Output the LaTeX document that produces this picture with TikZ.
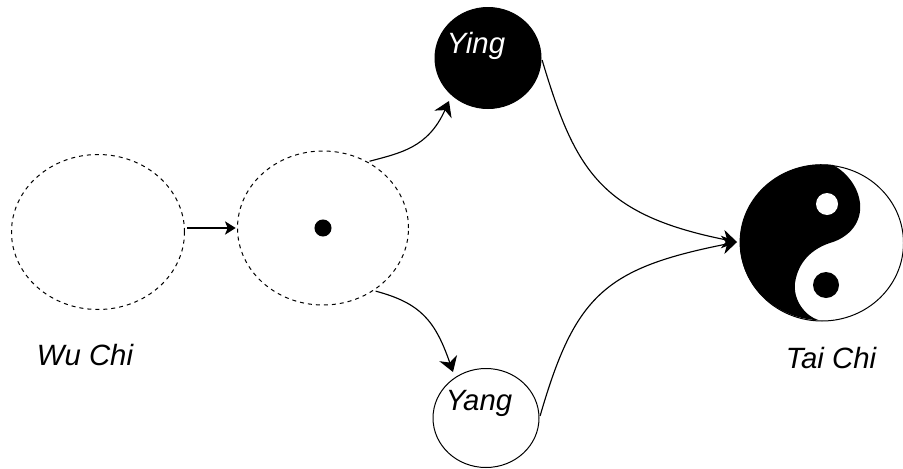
\documentclass[tikz,border=0pt]{standalone}
\usepackage{fontspec}
\setmainfont{Liberation Sans}
\usetikzlibrary{shapes.geometric}
\usetikzlibrary{arrows.meta}

\tikzset{
	void/.style={draw,ellipse,dashed,inner sep=0pt},
	pole/.style={draw,ellipse,inner sep=0pt},
	caption/.style={font=\fontsize{22}{26}\selectfont\itshape,inner sep=0pt},
	flow/.style={-{Stealth[length=11pt,width=14pt,inset=3.5pt]},line width=0.85pt,shorten <=1.5pt},
	shortflow/.style={-{Stealth[length=8pt,width=10pt,inset=2pt]},line width=0.85pt,shorten <=1.5pt,shorten >=1pt},
}

\begin{document}
\begin{tikzpicture}[x=0.75pt,y=-0.75pt,line width=0.75pt]
		\useasboundingbox (0,0) rectangle (903,468);
		\draw
		node[void,minimum width=129.75pt,minimum height=116.25pt] (wuchi) at (98,232){}
		node[void,minimum width=128.25pt,minimum height=115.5pt] (seed) at (323,228){}
		node[draw,circle,fill=black,minimum size=12pt,inner sep=0pt] (dot) at (323,228){}
		node[pole,fill=black,minimum width=79.5pt,minimum height=75.75pt] (ying) at (488,58){}
		node[pole,minimum width=79.5pt,minimum height=74.25pt] (yang) at (486,418){}
		node[pole,minimum width=122.25pt,minimum height=117pt] (taichi) at (822,243){};
		% black half of the symbol
		\fill (833,165) arc[start angle=-82,end angle=-268,x radius=82,y radius=78]
			.. controls (805,316) and (793,300) .. (795,283)
			.. controls (798,262) and (812,248) .. (833,242)
			.. controls (850,236) and (862,222) .. (860,203)
			.. controls (858,186) and (846,172) .. (833,165) -- cycle;
		\node[circle,fill=white,minimum size=16.5pt,inner sep=0pt] (eyewhite) at (827,204) {};
		\node[circle,fill=black,minimum size=19.5pt,inner sep=0pt] (eyeblack) at (826,285) {};
		\node[caption] (wulabel) at (85,355) {Wu Chi};
		\node[caption,text=white] (yinglabel) at (476,46) {Ying};
		\node[caption] (yanglabel) at (479,403) {Yang};
		\node[caption] (tailabel) at (831,358) {Tai Chi};
		\draw [shortflow] (wuchi.east |- seed.west) -- (seed.west);
		\draw [flow] (seed.56) .. controls (400,153) and (428,148) .. (449,101);
		\draw [flow] (seed.-51) .. controls (420,303) and (435,320) .. (453,372);
		\draw [flow] (ying.east) .. controls (575,170) and (600,215) .. (737,242);
		\draw [flow] (yang.east) .. controls (575,295) and (605,268) .. (737,242);
		\end{tikzpicture}
\end{document}
